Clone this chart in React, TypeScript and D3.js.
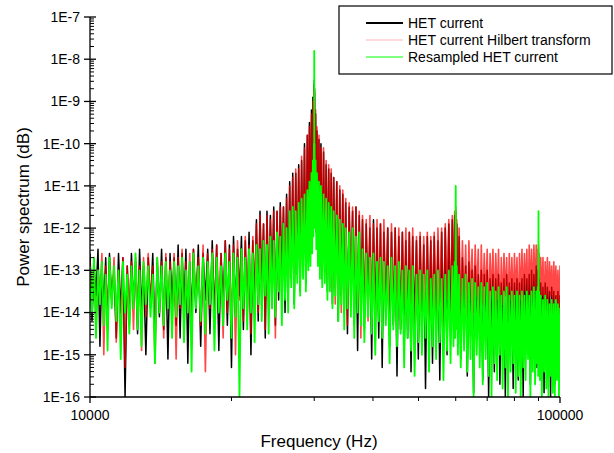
import React from "react";
import * as d3 from "d3";

// Frequency bins (Hz)
const freqs = [
  10000, 10200, 10400, 10600, 10800, 11000, 11250, 11500, 11750, 12000,
  12250, 12500, 12750, 13000, 13300, 13600, 13900, 14200, 14500, 14800,
  15100, 15400, 15700, 16000, 16300, 16600, 17000, 17400, 17800, 18200,
  18600, 19000, 19400, 19800, 20200, 20600, 21000, 21400, 21800, 22200,
  22600, 23000, 23400, 23800, 24200, 24600, 25000, 25400, 25800, 26200,
  26600, 27000, 27400, 27800, 28200, 28600, 29000, 29300, 29600, 29800,
  29950, 30000, 30050, 30200, 30400, 30700, 31000, 31400, 31800, 32200,
  32600, 33000, 33500, 34000, 34500, 35000, 35600, 36200, 36800, 37400,
  38000, 38700, 39400, 40100, 40800, 41500, 42200, 43000, 43800, 44600,
  45400, 46200, 47000, 47800, 48600, 49500, 50400, 51300, 52200, 53100,
  54000, 55000, 56000, 57000, 58000, 59000, 59700, 60000, 60300, 61000,
  62000, 63000, 64000, 65000, 66000, 67000, 68000, 69000, 70000, 71000,
  72000, 73000, 74000, 75000, 76000, 77000, 78000, 79000, 80000, 81000,
  82000, 83000, 84000, 85000, 86000, 87000, 88000, 89000, 89700, 90000,
  90300, 91000, 92000, 93000, 94000, 95000, 96000, 97000, 98000, 99000, 100000,
];

// log10 of power: per-bin maximum and minimum
const blackHi = [
  -12.6, -12.9, -12.5, -12.8, -12.7, -12.6, -13.0, -12.6, -12.7, -12.9,
  -12.6, -12.8, -12.5, -12.9, -12.7, -12.6, -12.8, -12.5, -12.7, -12.6,
  -12.7, -12.4, -12.6, -12.5, -12.8, -12.5, -12.4, -12.6, -12.5, -12.3,
  -12.4, -12.6, -12.3, -12.4, -12.2, -12.5, -12.2, -12.3, -12.1, -12.3,
  -11.8, -11.6, -11.9, -11.6, -11.7, -11.5, -11.6, -11.4, -11.5, -11.2,
  -10.9, -10.7, -10.7, -10.5, -10.4, -10.0, -9.8, -9.5, -9.2, -8.9,
  -8.6, -8.5, -8.7, -9.3, -9.7, -9.9, -10.0, -10.2, -10.5, -10.6,
  -10.7, -10.8, -10.9, -11.1, -11.2, -11.4, -11.5, -11.6, -11.5, -11.7,
  -11.8, -11.9, -12.0, -11.8, -12.0, -11.9, -12.1, -12.0, -12.1, -12.0,
  -12.2, -12.1, -12.3, -12.1, -12.2, -12.3, -12.2, -12.4, -12.2, -12.3,
  -12.2, -12.3, -12.1, -12.0, -11.9, -11.8, -11.7, -11.6, -11.9, -12.2,
  -12.7, -12.9, -12.8, -13.0, -12.9, -13.1, -13.0, -13.1, -13.0, -13.2,
  -13.1, -13.2, -13.1, -13.3, -13.2, -13.1, -13.3, -13.2, -13.3, -13.2,
  -13.3, -13.2, -13.1, -13.2, -13.1, -13.0, -13.1, -12.9, -13.0, -13.0,
  -13.2, -13.3, -13.4, -13.3, -13.4, -13.5, -13.4, -13.5, -13.6, -13.5, -13.6,
];
const blackLo = [
  -14.2, -13.6, -14.8, -13.9, -14.4, -13.7, -14.6, -14.0, -16.0, -14.3,
  -13.8, -14.5, -14.0, -15.0, -13.9, -14.7, -14.1, -14.4, -15.1, -13.8,
  -14.3, -14.6, -13.9, -15.2, -14.2, -14.0, -14.8, -13.7, -14.5, -14.1,
  -14.9, -13.8, -14.3, -15.3, -14.0, -13.6, -14.4, -14.1, -15.0, -13.8,
  -14.2, -13.5, -14.6, -13.9, -13.4, -14.3, -13.7, -13.3, -14.0, -13.6,
  -13.2, -13.8, -13.1, -13.5, -12.9, -13.3, -12.8, -12.5, -12.3, -11.8,
  -11.2, -10.8, -11.5, -12.1, -12.6, -12.9, -13.2, -13.0, -13.5, -13.3,
  -13.8, -13.4, -14.2, -13.6, -14.0, -14.5, -13.7, -14.3, -14.9, -13.9,
  -14.4, -14.0, -15.1, -14.2, -14.6, -15.3, -14.1, -14.8, -14.3, -15.5,
  -14.4, -15.0, -14.6, -15.4, -14.3, -15.1, -14.7, -15.8, -14.5, -15.2,
  -14.8, -15.6, -14.6, -15.0, -14.4, -14.2, -13.9, -13.6, -14.3, -15.1,
  -14.4, -15.5, -14.3, -15.9, -14.5, -14.4, -15.6, -14.3, -16.0, -14.5,
  -15.4, -14.4, -15.7, -14.5, -16.0, -14.6, -14.4, -15.8, -14.5, -15.6,
  -14.5, -16.0, -14.6, -14.4, -15.7, -14.5, -14.3, -15.3, -14.4, -14.2,
  -15.2, -14.5, -15.9, -14.6, -14.5, -16.0, -14.6, -15.7, -14.5, -15.5, -14.7,
];

const redHi = [
  -12.8, -12.7, -13.0, -12.6, -12.9, -12.8, -12.7, -13.0, -12.7, -12.9,
  -12.8, -12.7, -12.9, -12.7, -12.6, -12.9, -12.7, -12.8, -12.6, -12.8,
  -12.6, -12.7, -12.5, -12.8, -12.6, -12.5, -12.7, -12.4, -12.6, -12.5,
  -12.4, -12.6, -12.3, -12.5, -12.4, -12.3, -12.5, -12.2, -12.4, -12.2,
  -11.9, -11.7, -11.9, -11.7, -11.8, -11.6, -11.6, -11.5, -11.5, -11.3,
  -11.0, -10.8, -10.6, -10.6, -10.3, -10.1, -9.8, -9.6, -9.3, -9.0,
  -8.8, -8.6, -8.8, -9.2, -9.6, -9.8, -10.1, -10.1, -10.4, -10.5,
  -10.6, -10.8, -10.9, -11.0, -11.1, -11.3, -11.4, -11.5, -11.5, -11.6,
  -11.7, -11.8, -11.7, -11.9, -11.8, -11.9, -11.8, -12.0, -11.9, -12.0,
  -12.0, -12.1, -12.0, -12.1, -12.0, -12.2, -12.1, -12.2, -12.1, -12.2,
  -12.1, -12.0, -12.0, -11.9, -11.8, -11.7, -11.6, -11.5, -11.8, -12.0,
  -12.3, -12.4, -12.3, -12.5, -12.4, -12.5, -12.4, -12.6, -12.5, -12.6,
  -12.5, -12.6, -12.5, -12.7, -12.6, -12.7, -12.6, -12.7, -12.6, -12.7,
  -12.6, -12.5, -12.6, -12.5, -12.4, -12.5, -12.4, -12.4, -12.5, -12.4,
  -12.6, -12.7, -12.7, -12.8, -12.7, -12.8, -12.9, -12.8, -12.9, -13.0, -12.9,
];
const redLo = [
  -13.9, -14.5, -13.7, -15.0, -14.1, -13.8, -14.7, -14.2, -15.3, -13.9,
  -14.4, -13.8, -14.9, -14.1, -13.7, -15.2, -14.0, -14.6, -13.9, -14.3,
  -15.1, -13.9, -14.4, -14.0, -14.8, -13.7, -14.3, -15.4, -13.9, -14.2,
  -13.8, -14.6, -14.0, -14.3, -15.0, -13.7, -14.2, -13.9, -14.5, -13.6,
  -14.0, -13.6, -14.4, -13.5, -13.9, -14.6, -13.4, -13.8, -13.3, -13.7,
  -13.1, -13.5, -12.9, -13.3, -12.8, -12.9, -12.6, -12.4, -12.1, -11.6,
  -11.0, -10.5, -11.3, -12.0, -12.4, -12.7, -12.9, -13.1, -13.2, -13.4,
  -13.5, -13.8, -13.4, -14.0, -13.6, -14.3, -13.7, -14.1, -13.8, -14.6,
  -13.9, -14.2, -13.8, -14.7, -14.0, -14.3, -13.9, -14.5, -14.1, -13.9,
  -14.4, -13.8, -14.2, -14.0, -14.9, -13.9, -14.3, -14.0, -14.6, -13.9,
  -14.2, -13.8, -14.5, -13.7, -14.0, -13.6, -13.5, -13.3, -13.6, -14.1,
  -13.8, -14.3, -13.7, -14.0, -13.6, -14.5, -13.8, -13.7, -14.2, -13.6,
  -13.9, -13.7, -14.4, -13.8, -13.6, -14.1, -13.7, -13.9, -13.6, -14.3,
  -13.7, -13.8, -13.5, -14.0, -13.6, -13.7, -13.5, -13.9, -13.6, -13.4,
  -13.8, -13.6, -14.2, -13.7, -13.9, -13.6, -14.0, -13.7, -13.8, -14.1, -13.7,
];

const greenHi = [
  -12.9, -12.7, -13.0, -12.8, -13.1, -12.7, -12.9, -13.0, -12.8, -13.1,
  -12.9, -12.6, -13.0, -12.8, -12.9, -13.1, -12.7, -12.9, -12.8, -13.0,
  -12.8, -12.9, -12.7, -13.0, -12.8, -12.6, -12.9, -12.7, -12.8, -12.6,
  -12.7, -12.9, -12.6, -12.8, -12.6, -12.7, -12.5, -12.7, -12.5, -12.6,
  -12.4, -12.5, -12.3, -12.4, -12.2, -12.3, -12.1, -12.2, -11.9, -12.0,
  -11.6, -11.5, -11.6, -11.4, -11.3, -11.2, -11.1, -10.9, -10.7, -10.4,
  -10.0, -7.8, -10.0, -10.4, -10.7, -10.9, -11.0, -11.2, -11.3, -11.4,
  -11.5, -11.6, -11.7, -11.8, -11.9, -12.0, -12.1, -12.0, -12.2, -12.1,
  -12.5, -12.6, -12.7, -12.6, -12.8, -12.7, -12.8, -12.9, -12.7, -12.9,
  -12.8, -13.0, -12.9, -13.0, -12.9, -13.1, -13.0, -13.1, -13.0, -13.2,
  -13.1, -13.0, -13.2, -13.1, -13.0, -12.9, -12.8, -11.0, -12.9, -13.1,
  -13.2, -13.1, -13.3, -13.2, -13.3, -13.4, -13.3, -13.4, -13.3, -13.5,
  -13.4, -13.5, -13.4, -13.6, -13.5, -13.4, -13.6, -13.5, -13.6, -13.5,
  -13.6, -13.5, -13.6, -13.5, -13.6, -13.5, -13.4, -13.5, -13.4, -11.6,
  -13.5, -13.6, -13.7, -13.6, -13.7, -13.8, -13.7, -13.8, -13.7, -13.8, -13.9,
];
const greenLo = [
  -14.0, -14.6, -13.8, -14.3, -14.9, -13.9, -14.2, -15.1, -14.0, -14.5,
  -13.9, -14.4, -14.8, -13.8, -14.1, -15.2, -14.0, -14.3, -13.9, -14.6,
  -14.1, -13.8, -14.7, -14.0, -15.4, -13.9, -14.2, -14.5, -13.8, -14.9,
  -14.0, -14.3, -13.7, -14.6, -14.1, -16.0, -13.9, -14.4, -14.0, -14.7,
  -13.8, -14.2, -13.6, -14.5, -13.9, -14.1, -13.5, -14.3, -13.7, -14.0,
  -13.4, -13.9, -13.3, -13.6, -13.2, -13.5, -13.0, -12.9, -12.6, -12.2,
  -11.8, -11.4, -12.0, -12.5, -12.9, -13.2, -13.4, -13.3, -13.7, -13.5,
  -13.9, -13.6, -14.2, -13.8, -14.4, -13.9, -14.1, -14.6, -14.0, -14.3,
  -14.7, -14.1, -14.5, -15.0, -14.2, -14.6, -14.3, -15.2, -14.4, -14.8,
  -14.5, -15.3, -14.6, -14.9, -15.5, -14.7, -15.0, -14.6, -15.4, -14.8,
  -15.1, -14.7, -15.6, -14.9, -15.2, -14.8, -14.6, -14.4, -15.0, -15.3,
  -14.9, -15.4, -15.1, -16.0, -15.0, -15.3, -15.7, -15.1, -15.5, -16.0,
  -15.2, -15.6, -15.0, -15.8, -15.3, -16.0, -15.4, -15.2, -15.9, -15.5,
  -16.0, -15.3, -15.6, -15.1, -16.0, -15.4, -15.7, -15.2, -15.5, -14.9,
  -15.6, -16.0, -15.4, -15.8, -16.0, -15.5, -15.9, -16.0, -15.6, -16.0, -15.8,
];

const yTickExps = [-16, -15, -14, -13, -12, -11, -10, -9, -8, -7];
const xTickLabels = ["10000", "100000"];
const seriesNames = ["HET current", "HET current Hilbert transform", "Resampled HET current"];

const W = 614;
const H = 453;
const M = { left: 90, right: 560, top: 17, bottom: 397 };
const FONT = "'Liberation Sans', Arial, Helvetica, sans-serif";

export default function App() {
  const x = d3.scaleLog().domain([10000, 100000]).range([M.left, M.right]);
  const y = d3.scaleLog().domain([1e-16, 1e-7]).range([M.bottom, M.top]);

  const line = d3
    .line<[number, number]>()
    .x((d) => x(d[0]))
    .y((d) => y(d[1]));

  const buildPath = (hi: number[], lo: number[]) => {
    const n = Math.min(freqs.length, hi.length, lo.length);
    const pts: [number, number][] = [];
    for (let i = 0; i < n; i++) {
      pts.push([freqs[i], Math.pow(10, hi[i])]);
      const fMid = i < n - 1 ? Math.sqrt(freqs[i] * freqs[i + 1]) : freqs[i];
      pts.push([fMid, Math.pow(10, lo[i])]);
    }
    return line(pts) || "";
  };

  const yMajor = yTickExps.map((e) => Math.pow(10, e));
  const yMinor: number[] = [];
  for (let e = -16; e < -7; e++) {
    for (let k = 2; k <= 9; k++) yMinor.push(k * Math.pow(10, e));
  }
  const xMinor: number[] = [];
  for (let k = 2; k <= 9; k++) xMinor.push(k * 10000);

  const legendX = 339;
  const legendY = 6;

  return (
    <svg
      width={W}
      height={H}
      style={{ position: "absolute", left: 0, top: 0, background: "#fff" }}
      fontFamily={FONT}
    >
      <defs>
        <clipPath id="plotClip">
          <rect x={M.left} y={M.top - 10} width={M.right - M.left} height={M.bottom - M.top + 10} />
        </clipPath>
      </defs>
      <g clipPath="url(#plotClip)">
        <path d={buildPath(blackHi, blackLo)} fill="none" stroke="#000" strokeWidth={1.5} strokeLinejoin="round" />
        <path d={buildPath(redHi, redLo)} fill="none" stroke="#ff0000" strokeOpacity={0.72} strokeWidth={1.6} strokeLinejoin="round" />
        <path d={buildPath(greenHi, greenLo)} fill="none" stroke="#00ff00" strokeWidth={1.8} strokeLinejoin="round" />
      </g>

      {/* axes */}
      <line x1={M.left} x2={M.left} y1={M.top} y2={M.bottom} stroke="#000" strokeWidth={1.3} />
      <line x1={M.left} x2={M.right} y1={M.bottom} y2={M.bottom} stroke="#000" strokeWidth={1.3} />

      {yMinor.map((v, i) => (
        <line key={"ym" + i} x1={M.left} x2={M.left + 4} y1={y(v)} y2={y(v)} stroke="#000" strokeWidth={1} />
      ))}
      {yMajor.map((v, i) => (
        <g key={"yM" + i}>
          <line x1={M.left - 6} x2={M.left + 6} y1={y(v)} y2={y(v)} stroke="#000" strokeWidth={1.3} />
          <text x={80} y={y(v)} dy="0.35em" textAnchor="end" fontSize={14} fill="#000">
            {"1E" + yTickExps[i]}
          </text>
        </g>
      ))}

      {xMinor.map((v, i) => (
        <line key={"xm" + i} x1={x(v)} x2={x(v)} y1={M.bottom} y2={M.bottom + 4} stroke="#000" strokeWidth={1} />
      ))}
      {[10000, 100000].map((v, i) => (
        <g key={"xM" + i}>
          <line x1={x(v)} x2={x(v)} y1={M.bottom} y2={M.bottom + 6} stroke="#000" strokeWidth={1.3} />
          <text x={x(v)} y={420} textAnchor="middle" fontSize={14} fill="#000">
            {xTickLabels[i]}
          </text>
        </g>
      ))}

      <text x={319} y={447} textAnchor="middle" fontSize={17} fill="#000">
        Frequency (Hz)
      </text>
      <text
        transform="translate(29,207) rotate(-90)"
        textAnchor="middle"
        fontSize={17}
        fill="#000"
      >
        Power spectrum (dB)
      </text>

      {/* legend */}
      <rect x={legendX} y={legendY} width={273} height={68} fill="#fff" stroke="#000" strokeWidth={1.2} />
      {seriesNames.map((name, i) => {
        const ly = legendY + 17 + i * 17;
        const stroke = i === 0 ? "#000" : i === 1 ? "#ffb4b4" : "#00ff00";
        const sw = i === 0 ? 2 : 1;
        return (
          <g key={name}>
            <line x1={366} x2={403} y1={ly} y2={ly} stroke={stroke} strokeWidth={sw} />
            <text x={408} y={ly} dy="0.35em" fontSize={14} fill="#000">
              {name}
            </text>
          </g>
        );
      })}
    </svg>
  );
}
